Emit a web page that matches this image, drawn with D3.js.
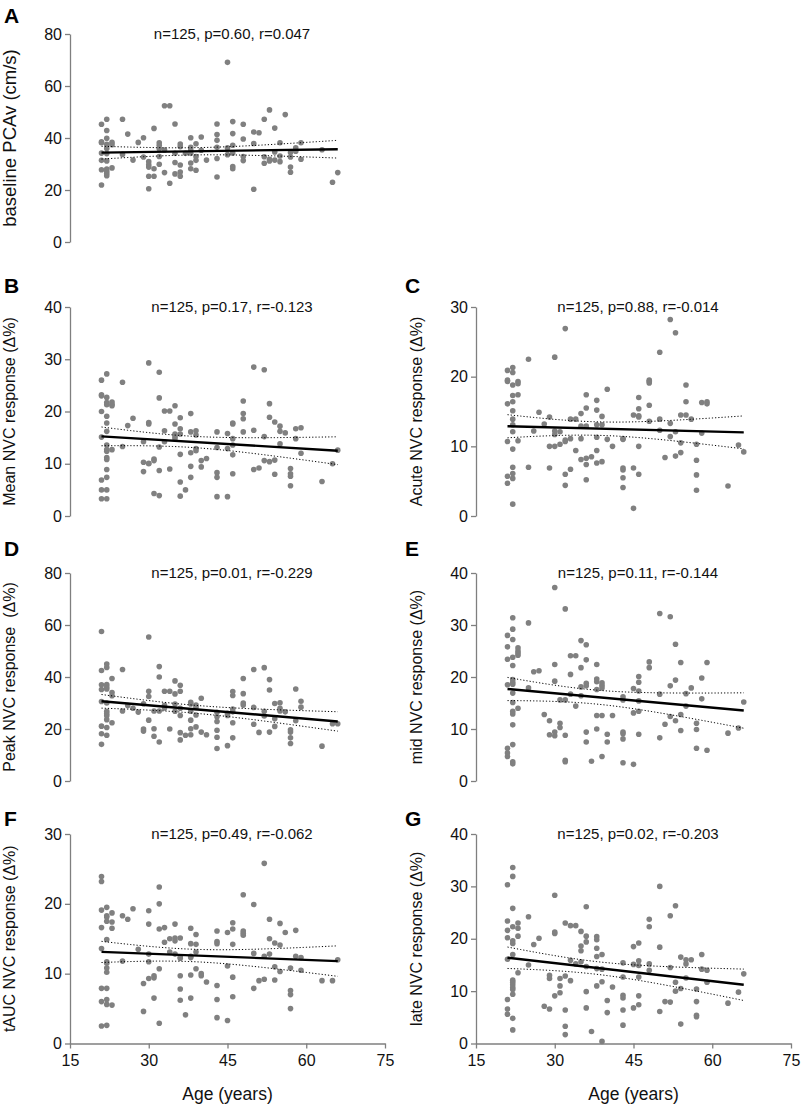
<!DOCTYPE html>
<html><head><meta charset="utf-8">
<script src="https://cdn.jsdelivr.net/npm/d3@7"></script>
<style>
body{margin:0;background:#fff;}
text{font-family:"Liberation Sans",Arial,sans-serif;}
</style></head>
<body><svg id="chart" width="801" height="1105"></svg>
<script>
// ---- Data: [age, [values at that age]] ----
const dataA = [[21,[45.3,38.5,38.2,34.2,31.4,27.8,21.9]],[22,[47.2,42.9,39.9,37.6,36,34,31.2,28.1,27.2,26.3,25.5]],[23,[38.3,37.4,28.5]],[25,[47.2,33.7]],[26,[41.5]],[27,[31.5]],[28,[38.3]],[29,[40.1,32.7]],[30,[30.9,29.7,28.8,25.3,20.5]],[31,[43.7,28.2,25.3]],[32,[38.2,37.2,35.9,32.9,29.9]],[33,[52.4,35.4,26.7]],[34,[52.4,22.6]],[35,[45.4,34.1,30.6,26.2]],[36,[37.7,36.7,29.6,26.9,25.3]],[37,[34.1]],[38,[40.1,36.4,35.4,34.1,30.4,28.2]],[39,[37.8,32.9,31.4,27.6]],[40,[40.4,35.3]],[41,[31.5]],[43,[45.4,41.3,39.1,36.4,32.1,25]],[45,[69.1,36.2,33.6]],[46,[46.3,41.7,37.2,34.2,29,28.2]],[48,[45.3,39.6,32.9,31.3]],[50,[42.3,37.9,20.3]],[51,[42]],[52,[47.2,32.8,30.3]],[53,[50.8,31.8,31.2]],[54,[43.8,34.6,31.5]],[55,[38.2,33.1,30.9]],[56,[49]],[57,[34.4,32.7,28.8,26.8]],[58,[36.2,34.9]],[59,[38.2,31.8]],[63,[35.5]],[65,[23]],[66,[26.7]]];
const dataB = [[21,[26.0,23.2,23.0,20.0,15.1,6.9,5.0,3.3]],[22,[27.2,22.7,21.7,21.3,19.1,17.8,16.2,13.6,12.7,12.4,11.2,10.8,8.9,7.4,5.0,3.3]],[23,[21.8,21.4,21.1,12.7]],[25,[25.6,13.3]],[26,[17.3]],[27,[18.7]],[29,[14.2,10.3,8.5]],[30,[29.3,17.9,17.6,10.1,10.0]],[31,[10.9,10.6,4.3]],[32,[27.5,22.6,13.2,8.7,3.9]],[33,[20.1,16.3,14.2]],[34,[20.1,9.0]],[35,[21.1,17.6,15.7,15.2,14.8]],[36,[18.8,16.7,15.7,11.8,6.5,3.8]],[37,[5.0]],[38,[19.6,16.1,12.1,9.5,7.4]],[39,[16.3,15.5,12.9,12.5]],[40,[10.6,9.4]],[41,[11.0]],[43,[16.1,13.1,8.3,7.4,3.7]],[45,[15.8,12.9,3.7]],[46,[17.8,17.6,14.8,13.6,11.7,8.1]],[48,[22.0,19.6,18.6,16.1]],[50,[28.5,16.4,8.9]],[51,[9.2]],[52,[28.0,15.2,10.6]],[53,[21.5,18.9,10.4]],[54,[18.0,10.7,8.0]],[55,[17.2,16.2,13.8]],[56,[15.9]],[57,[9.1,8.1,7.6,5.8]],[58,[16.7,14.8]],[59,[16.9,12.0]],[63,[6.6]],[65,[10.0]],[66,[12.6]]];
const dataC = [[21,[20.9,19.5,19.3,16.1,10.7,5.7,4.7]],[22,[21.3,20.6,18.8,17.3,16.4,15.1,13.9,13.1,12.1,9.6,7.0,6.1,5.4,1.7]],[23,[19.3,19.0,17.4,10.8]],[25,[22.5,7.0]],[26,[12.2]],[27,[14.9]],[28,[13.2]],[29,[14.2,10.0,6.9]],[30,[22.8,12.2,11.7,10.0]],[31,[12.1,10.3]],[32,[26.9,10.9,10.7,6.0,4.4]],[33,[13.9,11.1,6.7]],[34,[13.9,9.4]],[35,[14.7,12.9,11.1,8.1]],[36,[17.4,15.5,12.9,8.3,7.4,5.2]],[37,[8.5]],[38,[16.6,15.2,13.1,11.3,9.4,7.6]],[39,[14.3,13.1,7.8]],[40,[18.2,11.0]],[41,[10.0]],[43,[11.1,11.0,6.9,6.6,5.5,4.1]],[45,[14.5,6.9,1.1]],[46,[17.0,15.4,14.4,14.2,10.0,6.0]],[48,[19.5,19.3,19.1,15.9,13.6]],[50,[23.5,13.9,12.3]],[51,[8.4]],[52,[28.2,13.3,11.4]],[53,[26.3,12.1,8.6]],[54,[14.5,10.5,9.1]],[55,[18.8,16.4,14.5]],[56,[13.9]],[57,[10.3,8.0,5.9,3.7]],[58,[16.3,11.9]],[59,[16.4,16.1]],[63,[4.3]],[65,[10.2]],[66,[9.2]]];
const dataD = [[21,[57.5,42.5,37.0,35.2,30.6,21.1,18.2,14.1]],[22,[45.0,43.7,37.1,36.2,35.4,30.0,26.8,25.9,25.1,23.6,20.6,17.6]],[23,[39.4,34.0,32.8,22.4]],[25,[42.9,26.9]],[26,[29.0]],[27,[28.0]],[28,[26.5]],[29,[29.7,20.0,19.2]],[30,[55.4,34.5,32.5,23.4]],[31,[26.9,20.1,17.2]],[32,[44.0,40.0,26.9,15.0]],[33,[34.5,29.1,28.1]],[34,[34.5,20.0]],[35,[38.5,33.5,29.6,26.8]],[36,[36.8,34.5,28.0,25.2,18.6,15.8]],[37,[17.6]],[38,[30.3,29.6,26.8,23.4,20.1,17.8]],[39,[29.2,28.3,25.4,20.8]],[40,[31.8,18.8]],[41,[17.8]],[43,[26.4,24.7,22.9,19.5,16.8,12.5]],[45,[26.0,25.2,13.6]],[46,[34.4,32.9,27.7,26.6,22.4,16.6]],[48,[39.4,33.6,30.0,29.2]],[50,[42.9,28.3,21.8]],[51,[18.7]],[52,[43.6,26.8,25.0]],[53,[39.0,35.0,18.8]],[54,[29.8,23.9,21.0]],[55,[30.1,28.0,26.9]],[56,[26.6]],[57,[19.7,18.8,16.6,14.4]],[58,[35.4,23.2]],[59,[30.7,28.4]],[63,[13.4]],[65,[22.0]],[66,[22.0]]];
const dataE = [[21,[28.0,25.8,23.4,18.5,6.3,5.4,4.7]],[22,[31.4,29.2,27.2,23.8,22.2,19.5,19.0,18.6,16.9,15.1,13.4,12.9,10.8,7.0,3.7,3.3]],[23,[25.6,25.0,24.6,24.2,14.0]],[25,[30.4,17.9]],[26,[21.0]],[27,[21.2]],[28,[12.8]],[29,[11.6,8.9]],[30,[37.2,22.4,19.2,9.4,8.7]],[31,[15.6,11.1,10.3]],[32,[33.1,15.6,8.8,4.0,3.7]],[33,[24.1,20.5,16.7]],[34,[24.1,14.4]],[35,[27.0,21.8,18.1,16.4]],[36,[26.2,23.3,18.8,18.3,9.4,7.5]],[37,[3.8]],[38,[22.4,19.6,19.1,17.6,12.6,10.0]],[39,[18.9,18.4,17.9,12.6,4.7]],[40,[9.0,7.5]],[41,[12.6]],[43,[16.2,15.6,9.4,9.1,8.1,3.5]],[45,[17.8,13.1,3.2]],[46,[20.1,19.0,17.3,15.4,13.4,9.0]],[48,[22.9,21.8]],[50,[32.2,16.7,8.3]],[51,[10.9]],[52,[31.6,18.3,12.4]],[53,[26.3,19.4,11.6]],[54,[22.8,12.8,9.7]],[55,[16.8,14.4]],[56,[17.9]],[57,[11.1,9.9,6.3]],[58,[19.8,15.8]],[59,[22.8,5.9]],[63,[9.2]],[65,[10.2]],[66,[15.2]]];
const dataF = [[21,[23.9,23.2,19.1,16.6,13.6,7.9,6.0,2.5]],[22,[19.5,18.3,18.1,17.5,14.9,11.7,11.5,10.8,10.2,7.9,6.3,5.6,2.6]],[23,[18.7,17.4,16.5,5.5]],[25,[18.3,11.8]],[26,[17.8]],[27,[19.3]],[28,[13.5]],[29,[8.6,4.6]],[30,[19.0,17.1,12.8,11.7,9.3]],[31,[9.7,9.4,6.5]],[32,[22.4,20.0,16.4,10.7,2.9]],[33,[16.6,14.5]],[34,[15.0,13.1]],[35,[17.1,15.1,14.7,12.8]],[36,[15.1,12.4,12.2,9.7,7.8,6.2]],[37,[4.1]],[38,[16.5,14.3,12.5,12.3,9.8,6.5]],[39,[15.6,14.2,13.1,10.7]],[40,[10.0,9.7]],[41,[8.8]],[43,[16.1,14.6,14.3,8.3,6.3,3.7]],[45,[15.9,11.1,3.3]],[46,[17.3,16.4,14.2,9.5,6.7]],[48,[21.3,16.1,15.8,15.5]],[50,[19.9,12.9,7.9]],[51,[9.0]],[52,[25.8,12.5,9.2]],[53,[17.8,15.0,12.8]],[54,[14.4,11.0,9.1]],[55,[17.2,14.1,10.3]],[56,[15.9]],[57,[10.8,7.6,7.0,5.0]],[58,[16.2,12.5]],[59,[12.3,10.5]],[63,[9.0]],[65,[9.0]],[66,[12.0]]];
const dataG = [[21,[30.3,23.4,21.6,20.2,16.1,8.4,6.6,5.6]],[22,[33.6,31.9,25.8,22.3,19.6,19.1,17.0,12.1,11.7,11.2,10.7,10.3,9.4,4.8,2.6]],[23,[23.0,22.0,20.5,13.5]],[25,[24.2,15.0]],[26,[18.9]],[27,[20.1]],[28,[7.1]],[29,[13.0,12.4,6.6]],[30,[28.3,21.3,21.0,9.1]],[31,[12.4,11.0,9.7]],[32,[23.0,12.9,6.4,3.3,1.7]],[33,[22.5,15.9,12.0]],[34,[22.5,15.2]],[35,[21.4,18.6,17.7,15.6]],[36,[26.1,20.5,19.4,14.7,9.9,6.8]],[37,[2.3]],[38,[20.4,19.8,18.2,16.6,14.3,11.0]],[39,[17.0,14.2,11.8,0.4]],[40,[8.2,5.9]],[41,[10.8]],[43,[15.4,12.7,9.2,8.7,6.4,3.5]],[45,[18.5,15.1,6.8]],[46,[19.2,15.8,14.9,12.7,9.1,7.4]],[48,[23.7,22.3,15.2,14.0]],[50,[30.0,18.4,6.1]],[51,[8.0]],[52,[24.4,14.5,7.9]],[53,[26.3,11.7,10.0]],[54,[16.5,10.5,3.7]],[55,[16.0,15.2,12.5]],[56,[16.0]],[57,[10.4,8.0,5.4,5.1]],[58,[17.0,14.2]],[59,[14.0,11.7]],[63,[7.7]],[65,[9.8]],[66,[13.3]]];

const ageTicks = [15, 30, 45, 60, 75];
const panelLetters = ["A","B","C","D","E","F","G"];
const yLabels = ["baseline PCAv (cm/s)","Mean NVC response (\u0394%)","Acute NVC response (\u0394%)","Peak NVC response  (\u0394%)","mid NVC response (\u0394%)","tAUC NVC response (\u0394%)","late NVC response (\u0394%)"];
const statLabels = ["n=125, p=0.60, r=0.047","n=125, p=0.17, r=-0.123","n=125, p=0.88, r=-0.014","n=125, p=0.01, r=-0.229","n=125, p=0.11, r=-0.144","n=125, p=0.49, r=-0.062","n=125, p=0.02, r=-0.203"];
const yMax = [80, 40, 30, 80, 40, 30, 40];
const yTickValues = [[0,20,40,60,80],[0,10,20,30,40],[0,10,20,30],[0,20,40,60,80],[0,10,20,30,40],[0,10,20,30],[0,10,20,30,40]];
const allData = [dataA, dataB, dataC, dataD, dataE, dataF, dataG];

// ---- Layout ----
const colX = [70, 476];           // y-axis position per column
const plotW = 315;
const rows = [{top:34,bottom:242,letterY:23},{top:307,bottom:516,letterY:293},{top:573,bottom:781,letterY:556},{top:834,bottom:1043.5,letterY:826}];
const panelPos = [[0,0],[1,0],[1,1],[2,0],[2,1],[3,0],[3,1]]; // [row, col]
const labelSize = [18.5,16,16,16,16,16,16];
const axisGray = "#7f7f7f", dotGray = "#808080";

const svg = d3.select("#chart");

function fit(pts){
  const n = pts.length;
  const xb = d3.mean(pts, d=>d[0]), yb = d3.mean(pts, d=>d[1]);
  let sxx=0, sxy=0;
  pts.forEach(d=>{sxx+=(d[0]-xb)**2; sxy+=(d[0]-xb)*(d[1]-yb);});
  const b = sxy/sxx, a = yb - b*xb;
  let sse=0; pts.forEach(d=>{sse+=(d[1]-a-b*d[0])**2;});
  const s = Math.sqrt(sse/(n-2));
  return {a,b,s,n,xb,sxx};
}

allData.forEach((groups, i) => {
  const [r, c] = panelPos[i];
  const row = rows[r];
  const ax = colX[c];
  const pts = groups.flatMap(([age, vals]) => vals.map(v => [age, v]));
  const x = d3.scaleLinear().domain([15, 75]).range([ax, ax + plotW]);
  const y = d3.scaleLinear().domain([0, yMax[i]]).range([row.bottom, row.top]);
  const g = svg.append("g");

  // y axis
  const ya = g.append("g").attr("transform", `translate(${ax},0)`)
    .call(d3.axisLeft(y).tickValues(yTickValues[i]).tickSize(5).tickSizeOuter(0).tickPadding(3));
  ya.select(".domain").attr("stroke", axisGray).attr("stroke-width", 1.3);
  ya.selectAll(".tick line").attr("stroke", axisGray).attr("stroke-width", 1.3);
  ya.selectAll(".tick text").attr("font-size", 16).attr("fill", "#111").attr("font-family","Liberation Sans, Arial, sans-serif");

  // x axis (bottom row only)
  if (r === 3) {
    const xa = g.append("g").attr("transform", `translate(0,${row.bottom})`)
      .call(d3.axisBottom(x).tickValues(ageTicks).tickSize(5).tickSizeOuter(0).tickPadding(6));
    xa.select(".domain").attr("stroke", axisGray).attr("stroke-width", 1.3);
    xa.selectAll(".tick line").attr("stroke", axisGray).attr("stroke-width", 1.3);
    xa.selectAll(".tick text").attr("font-size", 16).attr("fill", "#111").attr("font-family","Liberation Sans, Arial, sans-serif");
    g.append("text").attr("x", ax + plotW/2).attr("y", row.bottom + 56)
      .attr("text-anchor", "middle").attr("font-size", 17.5).attr("fill", "#111").text("Age (years)");
  }

  // points
  g.append("g").selectAll("circle").data(pts).join("circle")
    .attr("cx", d => x(d[0])).attr("cy", d => y(d[1])).attr("r", 2.8).attr("fill", dotGray);

  // regression + 95% CI
  const f = fit(pts);
  const t = 1.98;
  const xmin = d3.min(pts, d=>d[0]), xmax = d3.max(pts, d=>d[0]);
  const xs = d3.range(xmin, xmax + 0.001, 0.5);
  const band = xs.map(xv => {
    const yh = f.a + f.b*xv;
    const h = t * f.s * Math.sqrt(1/f.n + (xv - f.xb)**2 / f.sxx);
    return {xv, lo: yh - h, hi: yh + h};
  });
  const lineGen = d3.line().x(d=>x(d[0])).y(d=>y(d[1]));
  g.append("path").attr("d", lineGen(band.map(d=>[d.xv, d.hi]))).attr("fill","none")
    .attr("stroke","#000").attr("stroke-width",1).attr("stroke-dasharray","1.2,2");
  g.append("path").attr("d", lineGen(band.map(d=>[d.xv, d.lo]))).attr("fill","none")
    .attr("stroke","#000").attr("stroke-width",1).attr("stroke-dasharray","1.2,2");
  g.append("path").attr("d", lineGen([[xmin, f.a + f.b*xmin],[xmax, f.a + f.b*xmax]]))
    .attr("fill","none").attr("stroke","#000").attr("stroke-width",2.4);

  // stats title
  g.append("text").attr("x", ax + 162).attr("y", row.top + 5)
    .attr("text-anchor","middle").attr("font-size",15).attr("fill","#111").text(statLabels[i]);

  // y label
  const lx = c === 0 ? 11 : 418;
  g.append("text").attr("transform", `translate(${lx},${(row.top+row.bottom)/2}) rotate(-90)`)
    .attr("text-anchor","middle").attr("dominant-baseline","middle").attr("font-size",labelSize[i])
    .attr("fill","#111").style("white-space","pre").text(yLabels[i]);

  // panel letter
  g.append("text").attr("x", c === 0 ? 4 : 405).attr("y", row.letterY)
    .attr("font-size", 21).attr("font-weight","bold").attr("fill","#000").text(panelLetters[i]);
});
</script>
</body></html>
